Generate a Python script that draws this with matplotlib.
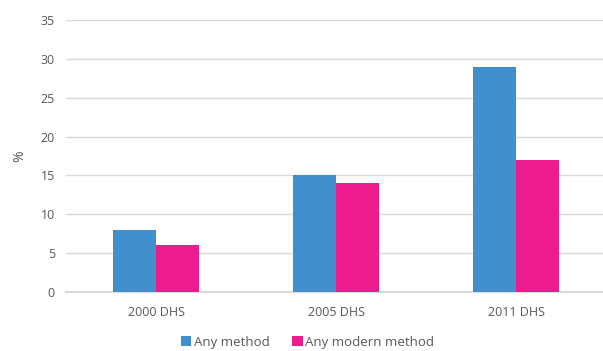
import matplotlib.pyplot as plt
import numpy as np

surveys = ["2000 DHS", "2005 DHS", "2011 DHS"]
any_method = [8, 15, 29]
any_modern = [6, 14, 17]

BLUE = "#418FCD"
PINK = "#EC1C8E"
TEXT = "#595959"
GRID = "#D9D9D9"

plt.rcParams["font.family"] = ["Open Sans", "DejaVu Sans"]

fig = plt.figure(figsize=(6.03, 3.51), dpi=100)
ax = fig.add_axes([0.1095, 0.168, 0.8955, 0.775])

x = np.arange(len(surveys))
w = 0.239
ax.bar(x - w / 2, any_method, w, color=BLUE, label="Any method", zorder=3)
ax.bar(x + w / 2, any_modern, w, color=PINK, label="Any modern method", zorder=3)

ax.set_xlim(-0.5, 2.5)
ax.set_ylim(0, 35)
ax.set_yticks(range(0, 36, 5))
ax.set_xticks(x)
ax.set_xticklabels(surveys)
ax.yaxis.grid(True, color=GRID, linewidth=1, zorder=0)
ax.tick_params(length=0, labelsize=9, colors=TEXT, pad=8)
ax.tick_params(axis="x", pad=10)
for s in ["top", "right", "left"]:
    ax.spines[s].set_visible(False)
ax.spines["bottom"].set_color(GRID)
ax.spines["bottom"].set_linewidth(1.5)

ax.set_ylabel("%", color=TEXT, fontsize=10, labelpad=10)

fig.legend(loc="lower center", bbox_to_anchor=(0.51, -0.028), ncol=2, frameon=False,
           fontsize=9.5, handlelength=0.8, handleheight=0.8, handletextpad=0.2,
           columnspacing=1.7, labelcolor=TEXT)

fig.savefig("out.png", dpi=100)
